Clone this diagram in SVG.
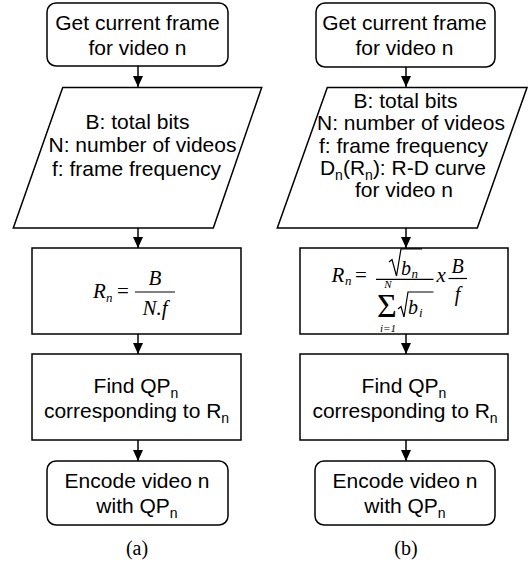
<svg xmlns="http://www.w3.org/2000/svg" width="528" height="566" viewBox="0 0 528 566">
<defs>
<marker id="ah" markerWidth="11" markerHeight="10" refX="11" refY="5" orient="auto" markerUnits="userSpaceOnUse">
<path d="M0,0 L11,5 L0,10 Z" fill="#000"/>
</marker>
<style>
.box{fill:#fff;stroke:#000;stroke-width:1.5}
.t{font-family:"Liberation Sans",Arial,sans-serif;font-size:21px;fill:#000;text-anchor:middle}
.sub{font-size:14px}
.m{font-family:"Liberation Serif","Times New Roman",serif;font-style:italic;font-size:21px;fill:#000}
.m20{font-size:20px}
.ms{font-size:13px}
.mxs{font-size:11px;text-anchor:middle}
.r{font-family:"Liberation Serif","Times New Roman",serif;font-size:21px;fill:#000}
.sig{font-size:34px;text-anchor:middle}
.mid{text-anchor:middle}
.c{stroke:#000;stroke-width:1.5;fill:none}
.fl{stroke:#000;stroke-width:1.2;fill:none}
.cap{font-family:"Liberation Serif","Times New Roman",serif;font-size:20px;text-anchor:middle;fill:#000}
</style>
</defs>
<rect width="528" height="566" fill="#fff"/>

<g id="connectors">
<line class="c" x1="138" y1="66" x2="138" y2="87" marker-end="url(#ah)"/>
<line class="c" x1="138" y1="228" x2="138" y2="248" marker-end="url(#ah)"/>
<line class="c" x1="138" y1="334" x2="138" y2="354" marker-end="url(#ah)"/>
<line class="c" x1="138" y1="440" x2="138" y2="461" marker-end="url(#ah)"/>
<line class="c" x1="406" y1="67" x2="406" y2="87" marker-end="url(#ah)"/>
<line class="c" x1="406" y1="228" x2="406" y2="248" marker-end="url(#ah)"/>
<line class="c" x1="406" y1="334" x2="406" y2="354" marker-end="url(#ah)"/>
<line class="c" x1="406" y1="440" x2="406" y2="461" marker-end="url(#ah)"/>
</g>

<g id="a-start">
<rect class="box" x="47" y="3" width="181" height="63" rx="9"/>
<text class="t" x="137.5" y="30">Get current frame</text>
<text class="t" x="137.5" y="55">for video n</text>
</g>

<g id="a-input">
<polygon class="box" points="62.7,87.5 261.7,87.5 213.3,228 13.3,228"/>
<text class="t" x="137.5" y="128.5">B: total bits</text>
<text class="t" x="142.5" y="152">N: number of videos</text>
<text class="t" x="136.5" y="175.5">f: frame frequency</text>
</g>

<g id="a-formula">
<rect class="box" x="32" y="248" width="209" height="86"/>
<text class="m" x="93" y="298">R</text>
<text class="m ms" x="106" y="302">n</text>
<text class="r" x="117" y="298">=</text>
<line class="fl" x1="135" y1="292" x2="175" y2="292"/>
<text class="m mid" x="155" y="285">B</text>
<text class="m mid" x="155" y="315">N.f</text>
</g>

<g id="a-find">
<rect class="box" x="32" y="354" width="209" height="86"/>
<text class="t" x="136" y="393">Find QP<tspan class="sub" dy="5">n</tspan></text>
<text class="t" x="136.5" y="418">corresponding to R<tspan class="sub" dy="5">n</tspan></text>
</g>

<g id="a-encode">
<rect class="box" x="47" y="461" width="181" height="64" rx="9"/>
<text class="t" x="137" y="488">Encode video n</text>
<text class="t" x="137" y="513">with QP<tspan class="sub" dy="5">n</tspan></text>
</g>

<g id="b-start">
<rect class="box" x="316" y="3" width="179" height="64" rx="9"/>
<text class="t" x="404.5" y="30">Get current frame</text>
<text class="t" x="404.5" y="55">for video n</text>
</g>

<g id="b-input">
<polygon class="box" points="327.3,87.5 527,87.5 477.3,228 277.3,228"/>
<text class="t" x="405.5" y="108">B: total bits</text>
<text class="t" x="411" y="130.3">N: number of videos</text>
<text class="t" x="403.5" y="152.6">f: frame frequency</text>
<text class="t" x="403" y="174.9">D<tspan class="sub" dy="5">n</tspan><tspan dy="-5">(R</tspan><tspan class="sub" dy="5">n</tspan><tspan dy="-5">): R-D curve</tspan></text>
<text class="t" x="404" y="197.2">for video n</text>
</g>

<g id="b-formula">
<rect class="box" x="300" y="248" width="208" height="86"/>
<text class="m" x="331.5" y="282">R</text>
<text class="m ms" x="345" y="285">n</text>
<text class="r" x="355" y="282">=</text>
<line class="fl" x1="376" y1="279.3" x2="433.5" y2="279.3"/>
<polyline class="fl" points="389,262 392,259.5 396.5,276 401,248.8 422,248.8"/>
<text class="m m20" x="401" y="275">b</text>
<text class="m ms" x="411.5" y="278">n</text>
<text class="m mxs" x="388" y="287.5">N</text>
<text class="r sig" x="387" y="317">Σ</text>
<text class="m mxs" x="388" y="332">i=1</text>
<polyline class="fl" points="398,309 401,306.5 404,317 408,292 433.5,292"/>
<text class="m m20" x="408" y="313.5">b</text>
<text class="m ms" x="419" y="317">i</text>
<text class="m" x="436.5" y="282">x</text>
<line class="fl" x1="448.5" y1="278.5" x2="467" y2="278.5"/>
<text class="m m20 mid" x="457.5" y="273">B</text>
<text class="m m20 mid" x="457.5" y="301">f</text>
</g>

<g id="b-find">
<rect class="box" x="300" y="354" width="208" height="86"/>
<text class="t" x="404" y="393">Find QP<tspan class="sub" dy="5">n</tspan></text>
<text class="t" x="405" y="418">corresponding to R<tspan class="sub" dy="5">n</tspan></text>
</g>

<g id="b-encode">
<rect class="box" x="315" y="461" width="180" height="64" rx="9"/>
<text class="t" x="405" y="488">Encode video n</text>
<text class="t" x="405" y="513">with QP<tspan class="sub" dy="5">n</tspan></text>
</g>

<text class="cap" x="137" y="555">(a)</text>
<text class="cap" x="406" y="555">(b)</text>
</svg>
